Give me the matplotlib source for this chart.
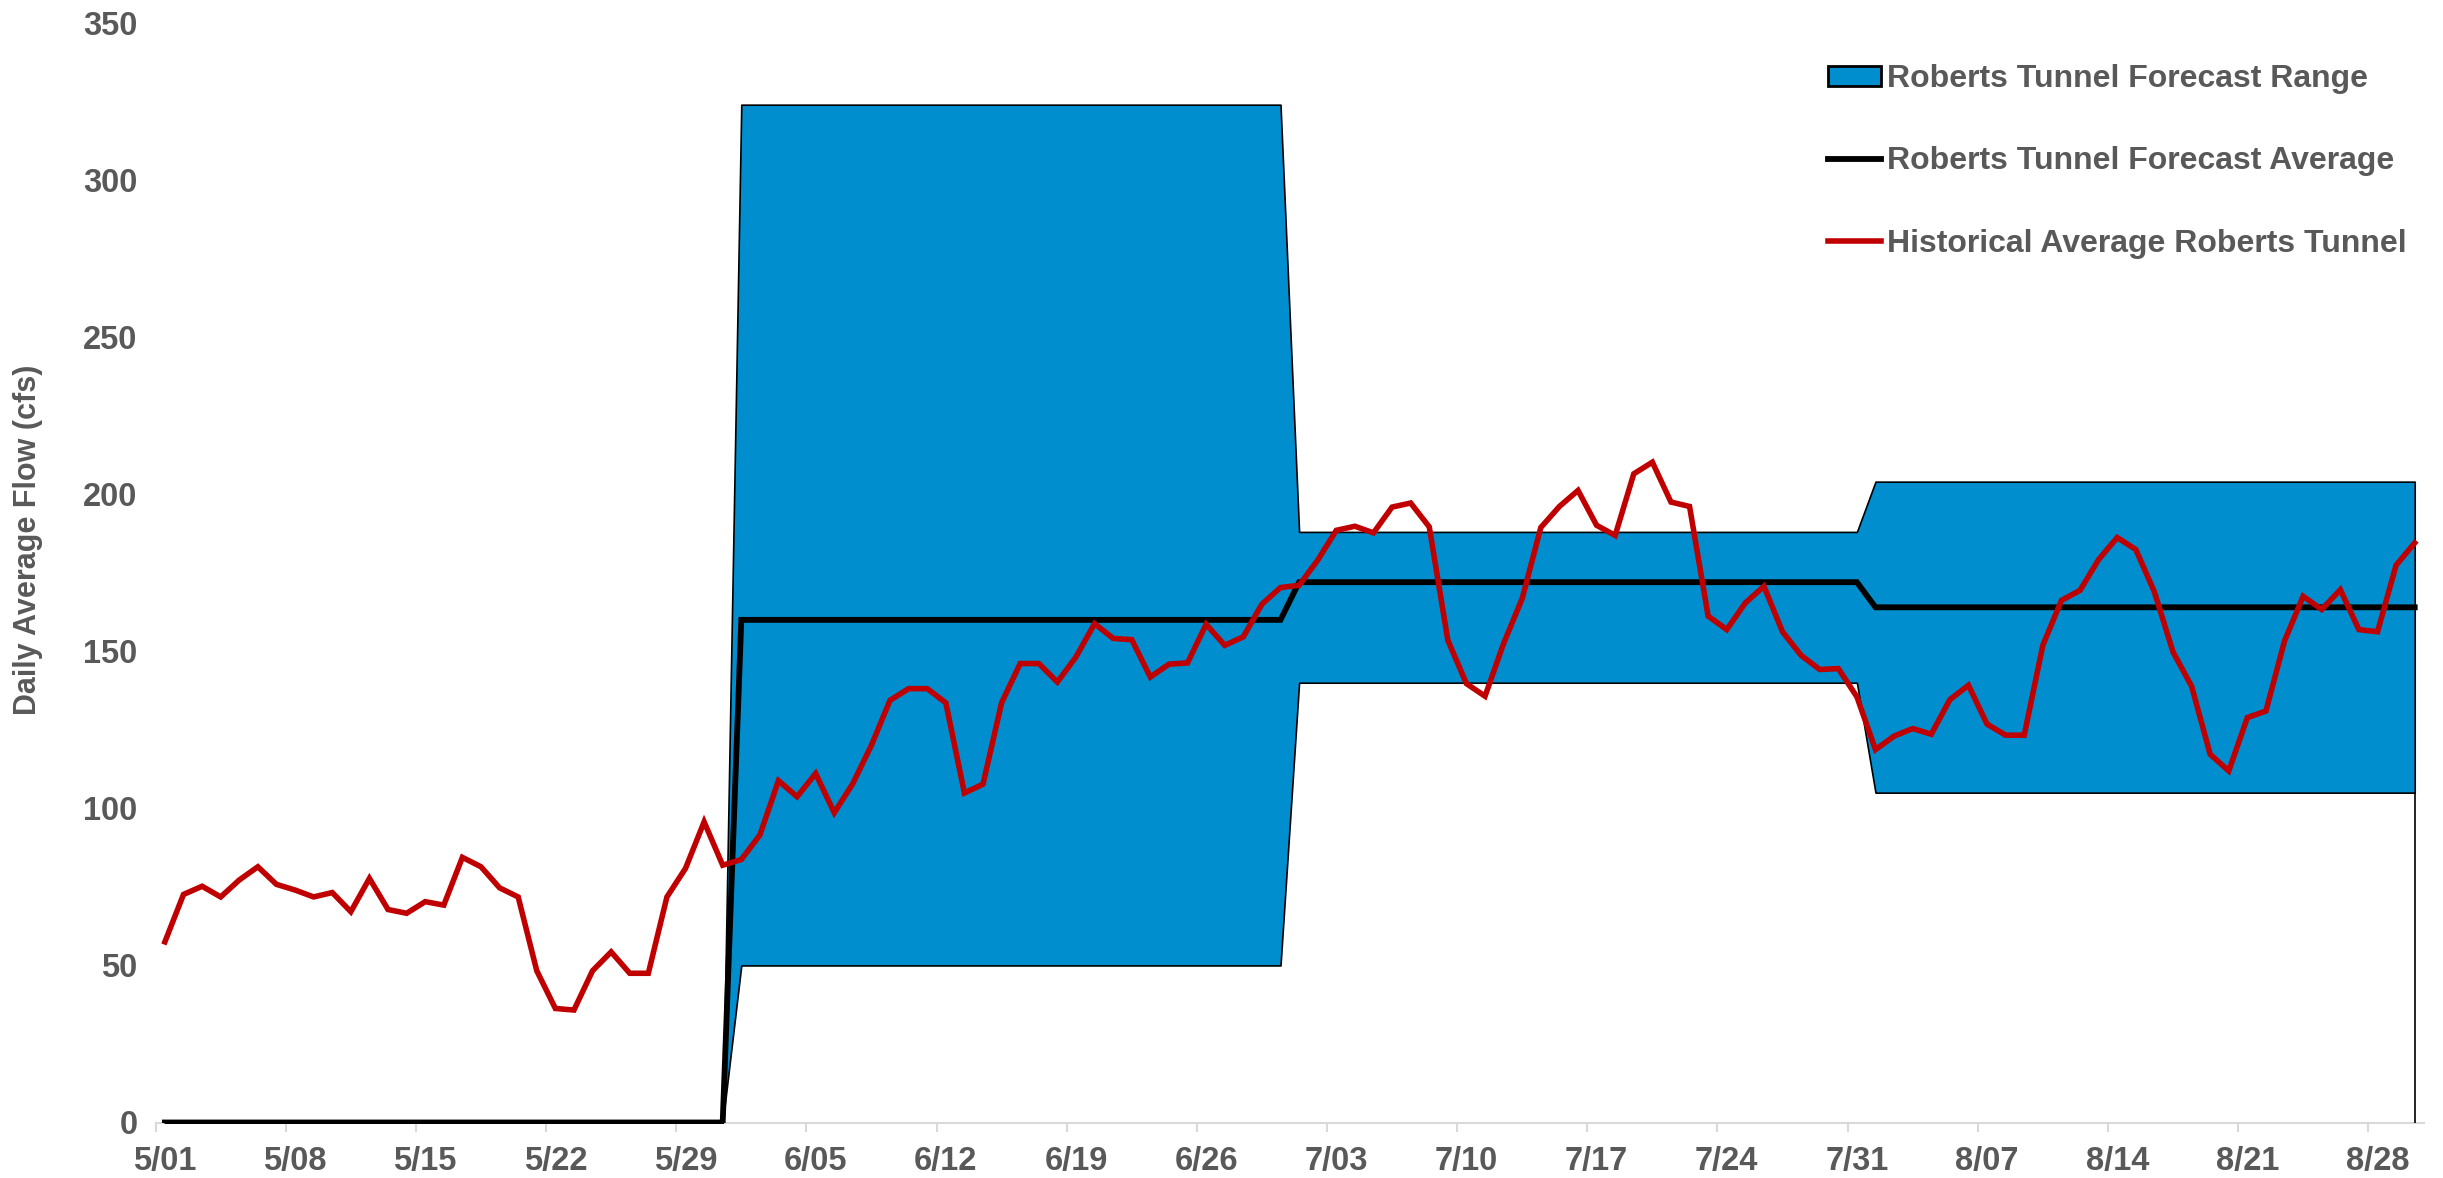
import numpy as np
import matplotlib
matplotlib.use("Agg")
import matplotlib.pyplot as plt
from matplotlib.patches import Patch
from matplotlib.lines import Line2D

# ---------------- data (daily, 5/01 .. 8/30) ----------------
historical = [
    57.5, 72.6, 75.2, 71.8, 77.2, 81.4, 75.8, 74.0, 71.8, 73.2,
    67.1, 77.7, 67.8, 66.6, 70.3, 69.2, 84.4, 81.4, 74.7, 71.8,
    48.3, 36.3, 35.8, 48.3, 54.3, 47.5, 47.5, 71.8, 80.9, 95.7,
    81.9, 83.7, 91.5, 108.8, 103.7, 111.1, 98.6, 107.9, 120.1, 134.4,
    138.1, 138.1, 133.6, 104.9, 107.7, 133.6, 146.1, 146.1, 140.2, 148.2,
    158.8, 154.1, 153.7, 141.8, 145.9, 146.3, 158.6, 151.9, 154.6, 165.0,
    170.3, 171.0, 179.0, 188.5, 189.8, 187.7, 195.9, 197.2, 189.6, 153.5,
    139.7, 135.7, 152.5, 166.8, 189.4, 196.1, 201.2, 190.1, 186.9, 206.5,
    210.2, 197.5, 196.1, 161.2, 156.9, 165.4, 170.7, 156.2, 148.7, 144.2,
    144.5, 135.5, 118.7, 123.0, 125.4, 123.6, 134.6, 139.2, 126.8, 123.3,
    123.3, 151.9, 166.2, 169.4, 179.2, 186.2, 182.4, 168.9, 149.8, 138.9,
    117.2, 111.9, 128.9, 131.0, 153.3, 167.5, 163.3, 169.6, 156.9, 156.2,
    177.4, 184.5,
]
# forecast: May (31 d) none, June (30 d), July (31 d), August (30 d shown)
forecast_low = [0] * 31 + [50] * 30 + [140] * 31 + [105] * 30
forecast_high = [0] * 31 + [324] * 30 + [188] * 31 + [204] * 30
forecast_avg = [0] * 31 + [160] * 30 + [172] * 31 + [164] * 30

tick_labels = ["5/01", "5/08", "5/15", "5/22", "5/29", "6/05", "6/12", "6/19",
               "6/26", "7/03", "7/10", "7/17", "7/24", "7/31", "8/07", "8/14",
               "8/21", "8/28"]
tick_step = 7
y_ticks = [0, 50, 100, 150, 200, 250, 300, 350]

# ---------------- style ----------------
BLUE = "#008ECE"
RED = "#C00000"
GRAY = "#595959"
AXIS_GRAY = "#D9D9D9"
FONT = ["Liberation Sans", "DejaVu Sans"]
plt.rcParams["font.family"] = FONT
plt.rcParams["font.weight"] = "bold"

W, H = 2443, 1178
fig = plt.figure(figsize=(W / 100, H / 100), dpi=100)
left_px, right_px = 155.6, 2424.0
top_px, bottom_px = 23.0, 1122.5
ax = fig.add_axes([left_px / W, 1 - bottom_px / H,
                   (right_px - left_px) / W, (bottom_px - top_px) / H])

x = np.arange(len(historical))

ax.fill_between(x, forecast_low, forecast_high, facecolor=BLUE,
                edgecolor="black", linewidth=1.2, zorder=2)
ax.plot([x[-1], x[-1]], [0, forecast_low[-1]], color="black",
        linewidth=1.2, zorder=2)
ax.plot(x, forecast_avg, color="black", linewidth=4.2, zorder=3,
        solid_joinstyle="miter")
ax.plot(x, historical, color=RED, linewidth=4.0, zorder=4,
        solid_joinstyle="miter")

ax.set_xlim(-0.5, len(historical) - 0.5)
ax.set_ylim(0, 350)

# x axis: labels at category centres, tick marks at category boundaries
major_pos = [i * tick_step for i in range(len(tick_labels))]
ax.set_xticks(major_pos)
ax.set_xticklabels(tick_labels)
ax.set_xticks([p - 0.5 for p in major_pos], minor=True)
ax.tick_params(axis="x", which="major", length=0, pad=17,
               labelsize=23.5, labelcolor=GRAY)
ax.tick_params(axis="x", which="minor", length=6.5, width=1.5,
               color=AXIS_GRAY, direction="out")

ax.set_yticks(y_ticks)
ax.tick_params(axis="y", which="major", length=0, pad=13,
               labelsize=23.5, labelcolor=GRAY)

for s in ["top", "right", "left"]:
    ax.spines[s].set_visible(False)
ax.spines["bottom"].set_color(AXIS_GRAY)
ax.spines["bottom"].set_linewidth(1.5)
ax.spines["bottom"].set_zorder(1)

ax.set_ylabel("Daily Average Flow (cfs)", fontsize=22, color=GRAY,
              fontweight="bold")
ax.yaxis.set_label_coords((43 - left_px) / (right_px - left_px), 0.53)

handles = [
    Patch(facecolor=BLUE, edgecolor="black", linewidth=2),
    Line2D([0], [0], color="black", linewidth=4.2),
    Line2D([0], [0], color=RED, linewidth=4.0),
]
labels = ["Roberts Tunnel Forecast Range", "Roberts Tunnel Forecast Average",
          "Historical Average Roberts Tunnel"]
leg = fig.legend(handles, labels, loc="upper left",
                 bbox_to_anchor=(1828 / W, 1 - 64 / H),
                 frameon=False, fontsize=23, handlelength=1.65,
                 handleheight=0.6, handletextpad=0.2, labelspacing=1.64,
                 borderpad=0, borderaxespad=0)
for t in leg.get_texts():
    t.set_color(GRAY)
    t.set_fontweight("bold")

fig.savefig("out.png", dpi=100)
